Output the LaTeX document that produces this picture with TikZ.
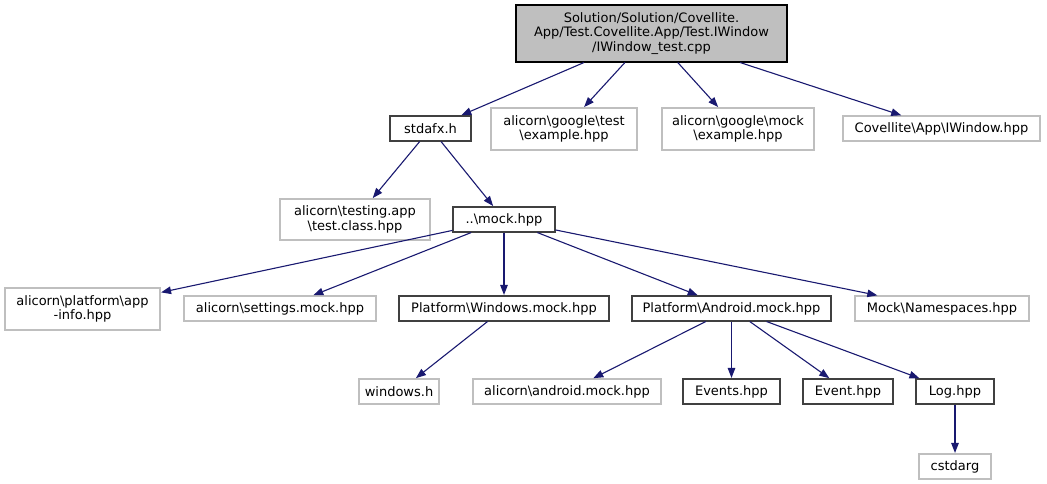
\documentclass[tikz,border=0pt]{standalone}
\usepackage{fontspec}
\setmainfont{DejaVu Sans}
\usetikzlibrary{arrows.meta}
\definecolor{edge}{HTML}{191970}
\definecolor{extgray}{HTML}{BFBFBF}
\definecolor{docgray}{HTML}{404040}
\tikzset{
  file/.style={draw=docgray,line width=1.1pt,inner sep=0pt,align=center,font=\fontsize{13}{14.5}\selectfont},
  extfile/.style={file,draw=extgray},
  rootfile/.style={file,draw=black,fill=extgray},
  dep/.style={draw=edge,line width=1.1pt,-{Triangle[length=10pt,width=7.5pt]},shorten >=0.5pt}
}

\begin{document}
\begin{tikzpicture}[x=1pt,y=-1pt]
\useasboundingbox (0,0) rectangle (1047,484);
% row 0 and 1
\node[rootfile,minimum width=271pt,minimum height=57pt] (root) at (651.5,33.5) {Solution/Solution/Covellite.\\App/Test.Covellite.App/Test.IWindow\\/IWindow\_test.cpp};
\node[file,minimum width=81pt,minimum height=25pt] (stdafx) at (430.5,128.5) {stdafx.h};
\node[extfile,minimum width=146pt,minimum height=42pt] (gtest) at (564,129) {alicorn\textbackslash google\textbackslash test\\\textbackslash example.hpp};
\node[extfile,minimum width=152pt,minimum height=42pt] (gmock) at (738,129) {alicorn\textbackslash google\textbackslash mock\\\textbackslash example.hpp};
\node[extfile,minimum width=197pt,minimum height=25pt] (iwin) at (941.5,128.5) {Covellite\textbackslash App\textbackslash IWindow.hpp};
% row 2
\node[extfile,minimum width=150pt,minimum height=41pt] (tclass) at (355,219.5) {alicorn\textbackslash testing.app\\\textbackslash test.class.hpp};
\node[file,minimum width=102pt,minimum height=25pt] (mock) at (504,219.5) {..\textbackslash mock.hpp};
% row 3
\node[extfile,minimum width=155pt,minimum height=42pt] (appinfo) at (82.5,309) {alicorn\textbackslash platform\textbackslash app\\-info.hpp};
\node[extfile,minimum width=192pt,minimum height=25pt] (settings) at (280,308.5) {alicorn\textbackslash settings.mock.hpp};
\node[file,minimum width=210pt,minimum height=25pt] (winmock) at (504,308.5) {Platform\textbackslash Windows.mock.hpp};
\node[file,minimum width=199pt,minimum height=25pt] (andmock) at (731.5,308.5) {Platform\textbackslash Android.mock.hpp};
\node[extfile,minimum width=174pt,minimum height=25pt] (nspace) at (942,308.5) {Mock\textbackslash Namespaces.hpp};
% row 4 and 5
\node[extfile,minimum width=80pt,minimum height=25pt] (winh) at (399,391.5) {windows.h};
\node[extfile,minimum width=188pt,minimum height=25pt] (andhpp) at (567,391.5) {alicorn\textbackslash android.mock.hpp};
\node[file,minimum width=97pt,minimum height=25pt] (events) at (731.5,391.5) {Events.hpp};
\node[file,minimum width=90pt,minimum height=25pt] (event) at (848,391.5) {Event.hpp};
\node[file,minimum width=78pt,minimum height=25pt] (log) at (955,391.5) {Log.hpp};
\node[extfile,minimum width=72pt,minimum height=25pt] (cstdarg) at (955,466.5) {cstdarg};
% includes
\foreach \a/\b in {root/stdafx,root/gtest,root/gmock,root/iwin,stdafx/tclass,stdafx/mock,
  mock/appinfo,mock/settings,mock/winmock,mock/andmock,mock/nspace,winmock/winh,
  andmock/andhpp,andmock/events,andmock/event,andmock/log,log/cstdarg}
  \draw[dep] (\a) -- (\b);
\end{tikzpicture}
\end{document}
